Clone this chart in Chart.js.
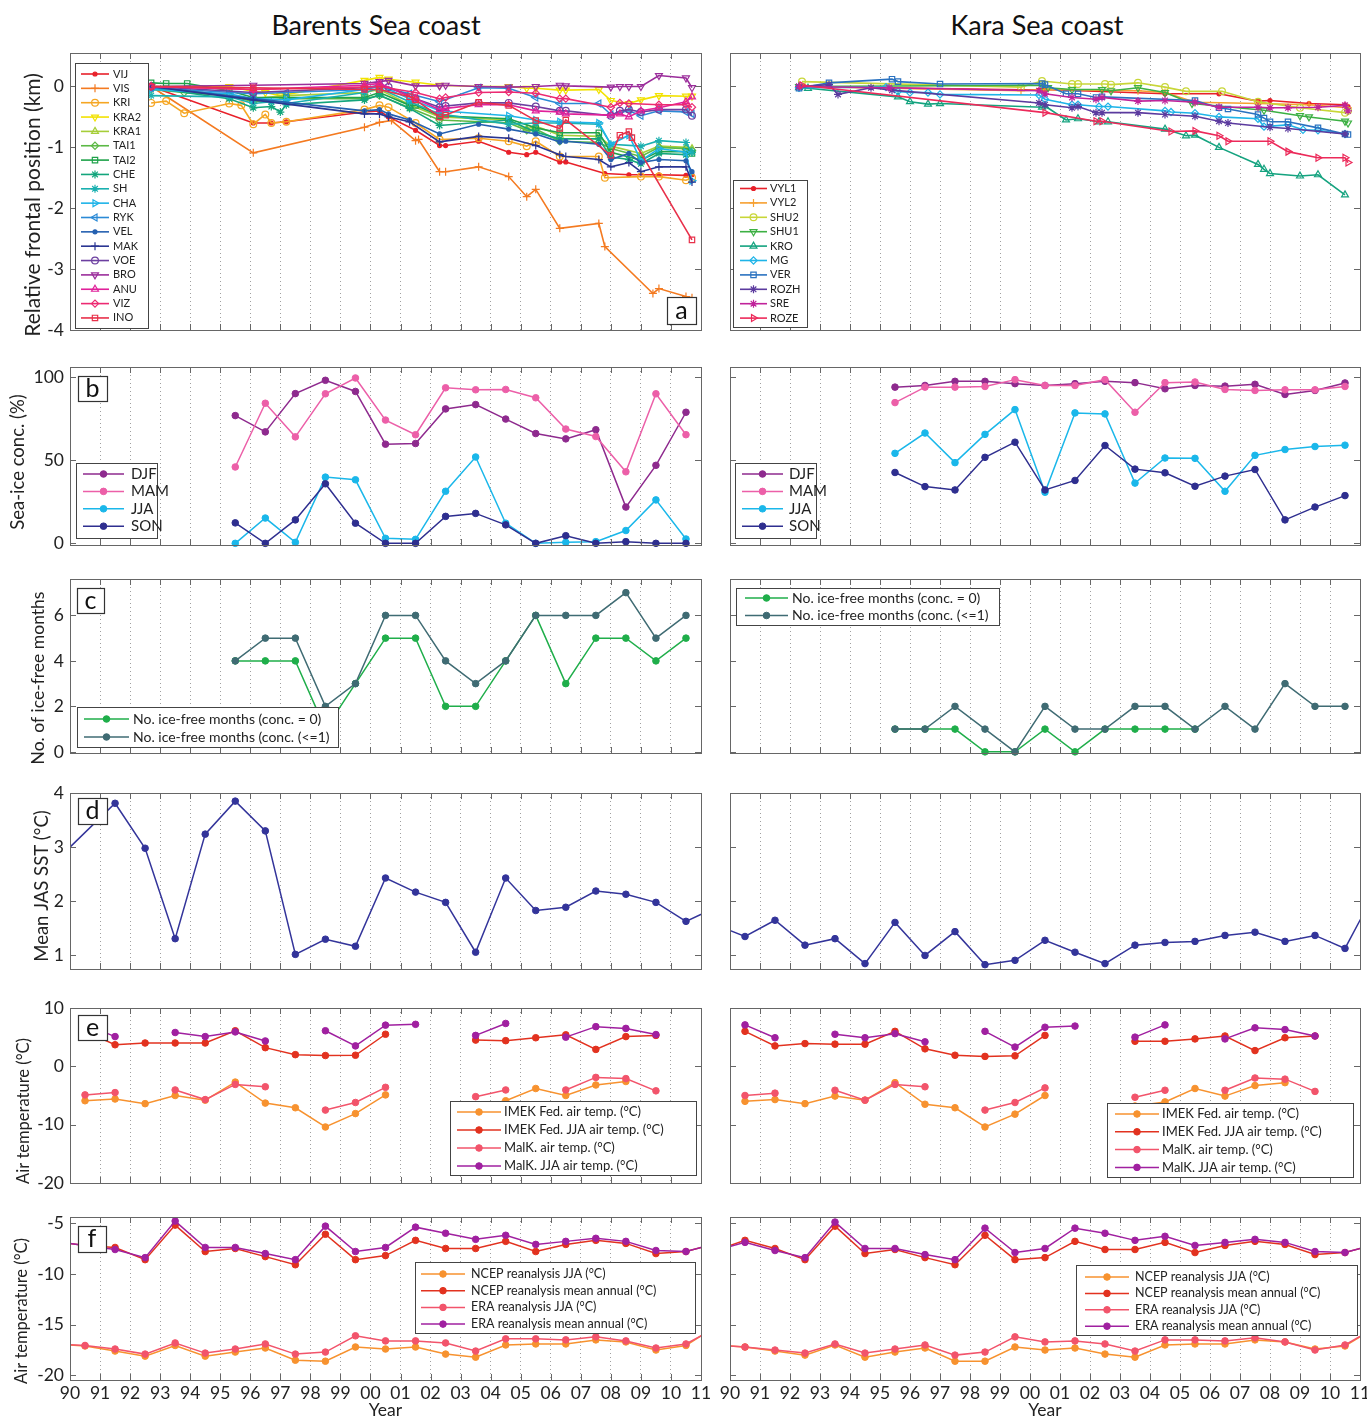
<!DOCTYPE html>
<html>
<head>
<meta charset="utf-8">
<script src="https://cdn.jsdelivr.net/npm/chart.js@4.4.1/dist/chart.umd.min.js"></script>
<style>
body { margin: 0; background: #fff; width: 1367px; height: 1421px; overflow: hidden; position: relative; font-family: Lato, sans-serif; }
.hdr { position: absolute; top: 9px; font-size: 27px; line-height: 32px; color: #111; transform: translateX(-50%); white-space: nowrap; }
.panel { position: absolute; }
</style>
</head>
<body>
<div class="hdr" style="left:376px">Barents Sea coast</div>
<div class="hdr" style="left:1037px">Kara Sea coast</div>
<script>
// ---- a: relative frontal position (km), [year, km]
const VIJ = [[1992.7,0],[1996.1,-0.6],[1996.7,-0.6],[1997.2,-0.58],[1999.8,-0.42],[2000.3,-0.4],[2000.6,-0.5],[2001.5,-0.72],[2002.3,-0.97],[2002.5,-0.97],[2003.6,-0.9],[2004.6,-1.08],[2005.2,-1.12],[2005.5,-1.08],[2006.3,-1.24],[2006.5,-1.24],[2007.8,-1.43],[2008.6,-1.45],[2009.6,-1.45],[2010.5,-1.46],[2010.7,-1.45]];
const VIS = [[1992.7,0],[1996.1,-1.09],[1999.8,-0.67],[2000.3,-0.59],[2000.7,-0.56],[2001.5,-0.89],[2001.6,-0.87],[2002.3,-1.4],[2002.5,-1.4],[2003.6,-1.32],[2004.6,-1.48],[2005.2,-1.81],[2005.5,-1.69],[2006.3,-2.33],[2007.6,-2.25],[2007.8,-2.63],[2009.4,-3.4],[2009.6,-3.32],[2010.5,-3.45],[2010.7,-3.47]];
const KRI = [[1992.7,-0.27],[1993.2,-0.24],[1993.8,-0.44],[1995.3,-0.28],[1995.7,-0.31],[1996.1,-0.62],[1996.5,-0.46],[1996.7,-0.6],[1997.2,-0.58],[1999.8,-0.38],[2000.3,-0.31],[2000.6,-0.34],[2001.5,-0.6],[2002.3,-0.87],[2003.6,-0.85],[2004.6,-0.9],[2005.2,-0.98],[2005.5,-0.9],[2006.3,-1.15],[2007.6,-1.15],[2007.8,-1.5],[2009.0,-1.48],[2009.6,-1.48],[2010.5,-1.54],[2010.7,-1.5]];
const KRA2 = [[1992.7,0],[1995.3,0],[1996.1,-0.08],[1996.5,-0.1],[1997.0,-0.15],[1999.8,0.1],[2000.3,0.15],[2000.6,0.12],[2001.5,0.07],[2002.3,0.02],[2003.6,0],[2004.6,0],[2005.2,-0.03],[2005.5,-0.03],[2006.3,-0.06],[2006.5,-0.06],[2007.6,-0.05],[2008.0,-0.23],[2008.6,-0.28],[2009.0,-0.22],[2009.6,-0.15],[2010.5,-0.16],[2010.7,-0.16]];
const KRA1 = [[1992.7,0],[1996.1,-0.2],[1997.2,-0.15],[1999.8,-0.1],[2000.3,-0.05],[2001.3,-0.3],[2002.3,-0.5],[2004.6,-0.55],[2005.2,-0.7],[2005.5,-0.65],[2006.3,-0.8],[2007.6,-0.82],[2008.0,-0.98],[2009.0,-1.1],[2009.6,-0.98],[2010.5,-1.0],[2010.7,-1.02]];
const TAI1 = [[1992.7,-0.05],[1993.8,-0.1],[1995.3,-0.15],[1996.1,-0.25],[1997.2,-0.2],[1999.8,-0.2],[2000.3,-0.15],[2001.3,-0.35],[2002.3,-0.55],[2004.6,-0.6],[2005.2,-0.72],[2005.5,-0.7],[2006.3,-0.9],[2007.6,-0.92],[2008.0,-1.02],[2009.0,-1.15],[2009.6,-1.0],[2010.5,-1.02],[2010.7,-1.05]];
const TAI2 = [[1992.7,0.06],[1993.2,0.05],[1993.9,0.05],[1995.3,-0.07],[1996.1,-0.18],[1997.2,-0.18],[1999.8,-0.18],[2000.3,-0.1],[2001.3,-0.31],[2001.5,-0.31],[2002.3,-0.48],[2004.6,-0.53],[2005.5,-0.68],[2006.3,-0.76],[2007.6,-0.76],[2008.0,-1.08],[2009.0,-1.21],[2009.6,-1.07],[2010.5,-1.07],[2010.7,-1.1]];
const CHE = [[1992.7,-0.02],[1995.3,-0.2],[1996.1,-0.35],[1996.7,-0.33],[1997.0,-0.42],[1997.2,-0.3],[1999.8,-0.22],[2000.3,-0.14],[2001.3,-0.36],[2002.3,-0.64],[2004.6,-0.55],[2005.5,-0.75],[2006.3,-0.86],[2007.6,-0.86],[2008.0,-1.16],[2008.6,-1.2],[2009.0,-1.27],[2009.6,-1.1],[2010.5,-1.12],[2010.7,-1.08]];
const SH = [[1992.7,-0.15],[1995.3,-0.17],[1996.1,-0.28],[1996.7,-0.25],[1997.2,-0.28],[1999.8,-0.1],[2000.3,-0.03],[2001.3,-0.25],[2002.3,-0.45],[2004.6,-0.62],[2005.5,-0.6],[2006.3,-0.6],[2007.6,-0.62],[2008.0,-0.95],[2009.0,-0.98],[2009.6,-0.89],[2010.5,-0.92],[2010.7,-1.08]];
const CHA = [[1992.7,-0.05],[1995.3,-0.12],[1996.1,-0.2],[1997.2,-0.22],[1999.8,-0.05],[2000.3,0.02],[2001.3,-0.2],[2002.3,-0.4],[2004.6,-0.48],[2005.5,-0.55],[2006.3,-0.58],[2007.6,-0.6],[2008.0,-0.95],[2008.6,-0.8],[2009.0,-1.22],[2009.6,-1.02],[2010.5,-1.08],[2010.7,-1.55]];
const RYK = [[1992.7,-0.02],[1996.1,-0.12],[1997.2,-0.1],[1999.8,-0.05],[2000.3,0],[2001.3,-0.12],[2002.3,-0.25],[2003.6,-0.02],[2004.6,-0.03],[2005.5,-0.18],[2006.3,-0.28],[2007.6,-0.28],[2008.0,-0.46],[2008.6,-0.4],[2009.0,-0.48],[2009.6,-0.4],[2010.5,-0.42],[2010.7,-0.45]];
const VEL = [[1992.7,0],[1996.1,-0.2],[1999.8,-0.4],[2000.3,-0.38],[2000.6,-0.45],[2001.3,-0.55],[2002.3,-0.78],[2003.6,-0.62],[2004.6,-0.7],[2005.5,-0.78],[2006.3,-0.91],[2006.5,-0.9],[2007.6,-0.95],[2008.0,-1.2],[2008.6,-1.1],[2009.0,-1.25],[2009.6,-1.2],[2010.5,-1.22],[2010.7,-1.4]];
const MAK = [[1992.7,0],[1996.1,-0.22],[1999.8,-0.45],[2000.3,-0.45],[2000.6,-0.5],[2001.3,-0.58],[2002.3,-0.91],[2003.6,-0.82],[2004.6,-0.85],[2005.5,-0.97],[2006.3,-1.12],[2006.5,-1.15],[2007.6,-1.2],[2008.0,-1.32],[2008.6,-1.25],[2009.0,-1.4],[2009.6,-1.32],[2010.5,-1.32],[2010.7,-1.57]];
const VOE = [[1992.7,0],[1996.1,-0.1],[1999.8,-0.02],[2000.3,0.02],[2000.6,-0.01],[2001.5,-0.2],[2002.3,-0.34],[2002.5,-0.32],[2003.6,-0.27],[2004.6,-0.27],[2005.5,-0.33],[2006.3,-0.4],[2006.5,-0.4],[2008.0,-0.48],[2008.3,-0.4],[2008.6,-0.38],[2009.0,-0.42],[2009.6,-0.38],[2010.5,-0.38],[2010.7,-0.48]];
const BRO = [[1992.7,0],[1996.1,0.02],[1999.8,0.05],[2000.3,0.08],[2000.6,0.1],[2001.5,0.01],[2002.3,0.01],[2002.5,0.02],[2003.6,0],[2004.6,-0.01],[2005.5,0],[2006.3,0.02],[2006.5,0.01],[2008.0,-0.01],[2008.3,0],[2008.6,0],[2009.0,0],[2009.6,0.18],[2010.5,0.14],[2010.7,-0.02]];
const ANU = [[1992.7,0],[1996.1,-0.05],[1999.8,0.02],[2000.3,0.05],[2001.5,-0.2],[2002.3,-0.38],[2002.5,-0.36],[2003.6,-0.3],[2004.6,-0.3],[2005.5,-0.4],[2006.3,-0.42],[2006.5,-0.45],[2008.0,-0.47],[2008.3,-0.45],[2008.6,-0.5],[2009.0,-0.4],[2009.6,-0.35],[2010.5,-0.25],[2010.7,-0.17]];
const VIZ = [[1992.7,0],[1996.1,-0.05],[1999.8,-0.01],[2000.3,0],[2001.5,-0.1],[2002.3,-0.2],[2002.5,-0.18],[2003.6,-0.1],[2004.6,-0.09],[2005.5,-0.11],[2006.3,-0.2],[2006.5,-0.2],[2008.0,-0.34],[2008.3,-0.27],[2008.6,-0.28],[2009.6,-0.3],[2010.5,-0.3],[2010.7,-0.34]];
const INO = [[1992.7,0],[1996.1,-0.02],[1999.8,-0.05],[2000.3,-0.05],[2001.3,-0.17],[2001.5,-0.22],[2002.3,-0.5],[2002.5,-0.47],[2003.6,-0.26],[2004.6,-0.31],[2005.5,-0.56],[2006.3,-0.69],[2006.5,-0.55],[2008.0,-1.13],[2008.3,-0.8],[2008.6,-0.74],[2008.7,-0.84],[2010.7,-2.52]];

const VYL1 = [[1992.3,0],[2000.3,-0.06],[2000.5,-0.05],[2004.5,-0.12],[2006.3,-0.12],[2007.6,-0.24],[2008.0,-0.23],[2009.3,-0.28],[2010.5,-0.3],[2010.6,-0.33]];
const VYL2 = [[1992.3,0],[1999.7,-0.07],[2000.5,-0.05],[2003.6,-0.07],[2004.5,-0.1],[2005.5,-0.26],[2007.6,-0.28],[2009.3,-0.3],[2010.6,-0.35]];
const SHU2 = [[1992.4,0.08],[1999.7,-0.01],[2000.4,0.09],[2001.4,0.04],[2001.6,0.04],[2002.5,0.04],[2002.7,0.03],[2003.6,0.06],[2004.5,-0.01],[2005.2,-0.08],[2006.4,-0.08],[2007.6,-0.25],[2009.0,-0.35],[2010.5,-0.43],[2010.6,-0.4]];
const SHU1 = [[1992.3,0],[2000.4,0.02],[2000.6,-0.02],[2001.4,-0.05],[2002.4,-0.05],[2002.7,-0.07],[2003.6,-0.02],[2004.5,-0.1],[2005.4,-0.28],[2007.8,-0.39],[2009.0,-0.48],[2009.3,-0.5],[2010.5,-0.57],[2010.6,-0.6]];
const KRO = [[1992.3,-0.02],[1992.6,-0.03],[1995.6,-0.17],[1996.0,-0.25],[1996.6,-0.29],[1997.0,-0.28],[2000.4,-0.34],[2000.5,-0.32],[2001.2,-0.55],[2001.6,-0.53],[2002.3,-0.58],[2002.6,-0.58],[2004.5,-0.7],[2005.2,-0.81],[2005.5,-0.8],[2006.3,-1.0],[2007.6,-1.28],[2007.8,-1.36],[2008.0,-1.43],[2009.0,-1.47],[2009.6,-1.45],[2010.5,-1.78]];
const MG = [[1992.3,-0.02],[1995.2,-0.01],[1995.6,-0.08],[1996.0,-0.1],[1996.6,-0.1],[1997.0,-0.13],[2000.3,-0.14],[2000.5,-0.21],[2001.4,-0.3],[2001.6,-0.3],[2002.3,-0.33],[2002.6,-0.33],[2004.5,-0.4],[2004.7,-0.42],[2005.5,-0.44],[2006.3,-0.5],[2007.6,-0.53],[2007.8,-0.66],[2008.6,-0.63],[2009.1,-0.71],[2009.6,-0.72],[2010.5,-0.78]];
const VER = [[1992.3,-0.03],[1993.3,0.06],[1995.4,0.12],[1995.6,0.08],[1997.0,0.04],[2000.4,0.05],[2000.5,0.03],[2001.2,-0.12],[2001.6,-0.12],[2002.2,-0.18],[2002.4,-0.17],[2005.5,-0.23],[2006.3,-0.35],[2006.6,-0.37],[2007.6,-0.46],[2007.8,-0.52],[2008.0,-0.58],[2008.6,-0.58],[2009.6,-0.68],[2010.5,-0.78],[2010.6,-0.79]];
const ROZH = [[1992.3,0],[1993.3,0.03],[1993.6,-0.13],[1994.7,-0.02],[1995.4,-0.06],[2000.3,-0.27],[2000.5,-0.3],[2001.4,-0.35],[2001.6,-0.33],[2002.2,-0.43],[2002.4,-0.43],[2003.6,-0.43],[2004.5,-0.46],[2005.5,-0.49],[2006.3,-0.57],[2006.6,-0.6],[2008.0,-0.67],[2008.6,-0.69],[2010.5,-0.78]];
const SRE = [[1992.3,0],[1995.3,-0.02],[2000.3,-0.07],[2000.5,-0.12],[2001.4,-0.18],[2002.2,-0.21],[2002.4,-0.18],[2003.6,-0.24],[2004.5,-0.23],[2005.5,-0.26],[2006.3,-0.34],[2007.6,-0.34],[2008.0,-0.35],[2008.6,-0.35],[2009.6,-0.34],[2010.5,-0.31],[2010.6,-0.4]];
const ROZE = [[1992.4,0.02],[2000.5,-0.43],[2002.2,-0.57],[2002.4,-0.57],[2004.7,-0.74],[2005.5,-0.73],[2006.3,-0.81],[2006.6,-0.9],[2008.0,-0.9],[2008.6,-1.07],[2009.6,-1.17],[2010.5,-1.17],[2010.6,-1.25]];

// ---- b: sea-ice concentration (%)
const iceYears = [1995.5,1996.5,1997.5,1998.5,1999.5,2000.5,2001.5,2002.5,2003.5,2004.5,2005.5,2006.5,2007.5,2008.5,2009.5,2010.5];
const barentsDJF = [76.8,67,90,98,91.3,59.6,60,80.8,83.4,74.7,66,62.8,68.3,21.8,46.9,78.8];
const barentsMAM = [45.9,84.2,64,89.9,99.4,74.1,65.3,93.5,92.3,92.5,87.5,68.7,64.2,43,89.9,65.3];
const barentsJJA = [0,15.2,0.6,39.8,38.2,3,2.4,31.3,51.9,12.1,0,0.6,1,7.7,26.1,2.6];
const barentsSON = [12.3,0,14.1,35.8,12.1,0,0,16.2,18,11.1,0,4.6,0,1,0,0];
const karaDJF = [93.9,94.9,97.4,97.4,96,94.9,96,97.4,96.6,92.9,94.9,94.5,95.6,89.5,91.9,96.4];
const karaMAM = [84.6,93.9,93.9,94.3,98.4,94.9,94.9,98.4,78.8,96.6,97,92.5,91.9,92.3,92.3,94.3];
const karaJJA = [54.1,66.3,48.5,65.5,80.4,30.7,78.4,77.8,36.2,51.3,51.1,31.3,52.9,56.4,58.2,59];
const karaSON = [42.6,34.1,32.1,51.7,60.8,32.1,37.8,58.8,44.6,42.4,34.3,40.4,44.4,14.1,21.8,28.7];

// ---- c: number of ice-free months
const barentsFree0 = [4,4,4,1,3,5,5,2,2,4,6,3,5,5,4,5];
const barentsFree1 = [4,5,5,2,3,6,6,4,3,4,6,6,6,7,5,6];
const karaFree0 = [1,1,1,0,0,1,0,1,1,1,1,null,null,null,null,null];
const karaFree1 = [1,1,2,1,0,2,1,1,2,2,1,2,1,3,2,2];

// ---- d: mean JAS SST
const sstYearsBarents = [1989.5,1991.5,1992.5,1993.5,1994.5,1995.5,1996.5,1997.5,1998.5,1999.5,2000.5,2001.5,2002.5,2003.5,2004.5,2005.5,2006.5,2007.5,2008.5,2009.5,2010.5,2011.5];
const barentsSST = [2.73,3.81,2.98,1.31,3.24,3.85,3.30,1.02,1.30,1.17,2.43,2.17,1.98,1.06,2.43,1.83,1.89,2.19,2.13,1.98,1.63,1.89];
const sstYearsKara = [1989.5,1990.5,1991.5,1992.5,1993.5,1994.5,1995.5,1996.5,1997.5,1998.5,1999.5,2000.5,2001.5,2002.5,2003.5,2004.5,2005.5,2006.5,2007.5,2008.5,2009.5,2010.5,2011.5];
const karaSST = [1.57,1.35,1.65,1.19,1.31,0.85,1.61,1.0,1.44,0.83,0.91,1.28,1.06,0.85,1.19,1.24,1.26,1.37,1.43,1.26,1.37,1.13,2.17];

// ---- e: station air temperature
const eYears = [1990.5,1991.5,1992.5,1993.5,1994.5,1995.5,1996.5,1997.5,1998.5,1999.5,2000.5,2001.5,2002.5,2003.5,2004.5,2005.5,2006.5,2007.5,2008.5,2009.5];
const barentsImekAnn = [-5.9,-5.6,-6.4,-5.0,-5.8,-2.7,-6.3,-7.1,-10.4,-8.1,-4.9,null,null,-6.9,-5.9,-3.8,-5.0,-3.2,-2.6,null];
const barentsImekJJA = [6.0,3.7,4.0,4.0,4.0,6.1,3.2,2.0,1.85,1.9,5.5,null,null,4.5,4.4,4.9,5.4,2.9,5.1,5.3];
const barentsMalkAnn = [-4.9,-4.5,null,-4.05,-5.7,-3.1,-3.5,null,-7.5,-6.2,-3.6,null,null,-5.2,-4.05,null,-4.05,-1.9,-2.1,-4.2];
const barentsMalkJJA = [7.2,5.1,null,5.8,5.1,5.9,4.35,null,6.1,3.5,7.06,7.2,null,5.3,7.35,null,5.0,6.8,6.5,5.45];
const karaImekAnn = [-6.0,-5.7,-6.4,-5.1,-5.8,-2.8,-6.5,-7.1,-10.4,-8.2,-5.0,null,null,-6.8,-6.1,-3.8,-5.1,-3.3,-2.8,null];
const karaImekJJA = [6.0,3.5,3.9,3.8,3.8,6.0,3.0,1.9,1.7,1.8,5.3,null,null,4.3,4.3,4.7,5.2,2.7,4.9,5.2];
const karaMalkAnn = [-5.0,-4.6,null,-4.1,-5.8,-3.1,-3.5,null,-7.5,-6.2,-3.7,null,null,-5.3,-4.1,null,-4.1,-2.0,-2.2,-4.3];
const karaMalkJJA = [7.1,4.9,null,5.5,4.9,5.6,4.2,null,6.0,3.3,6.7,6.9,null,5.0,7.1,null,4.7,6.6,6.3,5.2];

// ---- f: reanalysis air temperature
const fYears = [1989.5,1990.5,1991.5,1992.5,1993.5,1994.5,1995.5,1996.5,1997.5,1998.5,1999.5,2000.5,2001.5,2002.5,2003.5,2004.5,2005.5,2006.5,2007.5,2008.5,2009.5,2010.5,2011.5];
const barentsNcepJJA = [-16.9,-17.1,-17.6,-18.1,-17.05,-18.1,-17.7,-17.3,-18.5,-18.6,-17.2,-17.4,-17.2,-17.9,-18.2,-17.0,-16.9,-16.9,-16.5,-16.7,-17.5,-17.05,-15.15];
const barentsNcepAnn = [-6.8,-7.2,-7.4,-8.6,-5.2,-7.8,-7.5,-8.3,-9.1,-6.1,-8.6,-8.2,-6.7,-7.5,-7.5,-6.8,-7.8,-7.1,-6.7,-7.0,-8.0,-7.8,-7.0];
const barentsEraJJA = [-16.9,-17.05,-17.4,-17.9,-16.8,-17.8,-17.4,-16.9,-17.9,-17.7,-16.1,-16.6,-16.6,-16.8,-17.6,-16.4,-16.4,-16.5,-16.2,-16.6,-17.3,-16.9,-15.3];
const barentsEraAnn = [-6.8,-7.2,-7.6,-8.4,-4.8,-7.4,-7.4,-8.0,-8.6,-5.3,-7.8,-7.4,-5.4,-6.0,-6.6,-6.2,-7.1,-6.8,-6.5,-6.8,-7.7,-7.8,-7.0];
const karaNcepJJA = [-17.0,-17.2,-17.6,-18.0,-17.0,-18.2,-17.7,-17.3,-18.6,-18.6,-17.2,-17.5,-17.3,-17.9,-18.2,-17.0,-16.9,-16.9,-16.5,-16.7,-17.4,-17.1,-15.3];
const karaNcepAnn = [-7.7,-6.7,-7.5,-8.6,-5.3,-8.0,-7.6,-8.4,-9.1,-6.2,-8.6,-8.4,-6.8,-7.6,-7.6,-6.9,-7.9,-7.2,-6.8,-7.1,-8.1,-7.9,-7.1];
const karaEraJJA = [-17.0,-17.2,-17.5,-17.8,-16.9,-17.8,-17.4,-17.0,-18.0,-17.7,-16.2,-16.7,-16.6,-16.9,-17.6,-16.5,-16.5,-16.6,-16.3,-16.7,-17.5,-17.0,-15.3];
const karaEraAnn = [-7.7,-6.9,-7.7,-8.4,-4.9,-7.5,-7.5,-8.1,-8.6,-5.5,-7.9,-7.5,-5.5,-6.0,-6.7,-6.3,-7.2,-6.9,-6.6,-6.9,-7.8,-7.9,-7.1];

// ---- styles
const MK = {
  dot: { s: 'circle', r: 2, fill: true },
  plus: { s: 'cross', r: 4 },
  circ: { s: 'circle', r: 3.4 },
  tdown: { s: 'triangle', r: 4, rot: 180 },
  tup: { s: 'triangle', r: 4 },
  tright: { s: 'triangle', r: 4, rot: 90 },
  tleft: { s: 'triangle', r: 4, rot: -90 },
  diam: { s: 'rectRot', r: 3.6 },
  sq: { s: 'rect', r: 3.8 },
  star: { s: 'star', r: 4 },
};

function frontSet(label, pts, color, mk, i) {
  const m = MK[mk];
  return {
    label, data: pts.map(([x, y]) => ({ x, y })),
    borderColor: color, borderWidth: 1.6, tension: 0, clip: false,
    pointStyle: m.s, pointRadius: m.r, pointRotation: m.rot || 0,
    pointBorderColor: color, pointBorderWidth: 1.2,
    pointBackgroundColor: m.fill ? color : 'rgba(255,255,255,0)',
    order: -i,
  };
}

function lineSet(label, xs, ys, color, i, extra) {
  return Object.assign({
    label, data: xs.map((x, k) => ({ x, y: ys[k] })),
    borderColor: color, borderWidth: 1.5, tension: 0, spanGaps: false, clip: false,
    pointStyle: 'circle', pointRadius: 3.3, pointBorderWidth: 1,
    pointBorderColor: color, pointBackgroundColor: color,
    order: -i,
  }, extra || {});
}

const decor = {
  id: 'decor',
  afterDraw(chart, args, o) {
    const ctx = chart.ctx, a = chart.chartArea, xs = chart.scales.x, ys = chart.scales.y;
    ctx.save();
    ctx.strokeStyle = '#666';
    ctx.lineWidth = 1;
    ctx.beginPath();
    xs.ticks.forEach(t => {
      const p = Math.round(xs.getPixelForValue(t.value)) + 0.5;
      ctx.moveTo(p, a.top); ctx.lineTo(p, a.top + 6);
      ctx.moveTo(p, a.bottom); ctx.lineTo(p, a.bottom - 6);
    });
    ys.ticks.forEach(t => {
      const p = Math.round(ys.getPixelForValue(t.value)) + 0.5;
      ctx.moveTo(a.left, p); ctx.lineTo(a.left + 6, p);
      ctx.moveTo(a.right, p); ctx.lineTo(a.right - 6, p);
    });
    ctx.stroke();
    ctx.strokeRect(Math.round(a.left) + 0.5, Math.round(a.top) + 0.5, Math.round(a.right - a.left), Math.round(a.bottom - a.top));

    const L = o.legend;
    if (L) {
      const bx = L.box[0] - o.ox, by = L.box[1] - o.oy;
      ctx.fillStyle = '#fff';
      ctx.fillRect(bx, by, L.box[2], L.box[3]);
      ctx.strokeStyle = '#444';
      ctx.lineWidth = 1;
      ctx.strokeRect(bx + 0.5, by + 0.5, L.box[2], L.box[3]);
      ctx.font = L.font + 'px Lato, sans-serif';
      ctx.textBaseline = 'middle';
      ctx.textAlign = 'left';
      chart.data.datasets.forEach((d, i) => {
        const y = L.first + i * L.step - o.oy, x0 = L.line[0] - o.ox, x1 = L.line[1] - o.ox;
        ctx.strokeStyle = d.borderColor;
        ctx.lineWidth = d.borderWidth;
        ctx.beginPath(); ctx.moveTo(x0, y); ctx.lineTo(x1, y); ctx.stroke();
        ctx.fillStyle = d.pointBackgroundColor;
        ctx.strokeStyle = d.pointBorderColor;
        ctx.lineWidth = d.pointBorderWidth;
        if (Chart.helpers && Chart.helpers.drawPoint) {
          Chart.helpers.drawPoint(ctx, { pointStyle: d.pointStyle, radius: d.pointRadius, rotation: d.pointRotation || 0, borderWidth: d.pointBorderWidth }, (x0 + x1) / 2, y);
        }
        ctx.fillStyle = '#222';
        ctx.fillText(d.label, L.text - o.ox, y);
      });
    }
    const T = o.tag;
    if (T) {
      const tx = T.box[0] - o.ox, ty = T.box[1] - o.oy;
      ctx.fillStyle = '#fff';
      ctx.fillRect(tx, ty, T.box[2], T.box[3]);
      ctx.strokeStyle = '#333';
      ctx.lineWidth = 1.2;
      ctx.strokeRect(tx + 0.5, ty + 0.5, T.box[2], T.box[3]);
      ctx.fillStyle = '#111';
      ctx.font = '25px Lato, sans-serif';
      ctx.textAlign = 'center';
      ctx.textBaseline = 'middle';
      ctx.fillText(T.text, tx + T.box[2] / 2, ty + T.box[3] / 2);
    }
    const Yt = o.ytitle;
    if (Yt) {
      ctx.translate(Yt.x - o.ox, Yt.y - o.oy);
      ctx.rotate(-Math.PI / 2);
      ctx.fillStyle = '#222';
      ctx.font = Yt.size + 'px Lato, sans-serif';
      ctx.textAlign = 'center';
      ctx.textBaseline = 'middle';
      ctx.fillText(Yt.text, 0, 0);
    }
    ctx.restore();
  }
};
Chart.register(decor);
Chart.defaults.font.family = 'Lato, sans-serif';

const ROWS = { a: [53, 330], b: [367, 545], c: [579, 753], d: [793, 969], e: [1008, 1183], f: [1217, 1380] };
const COLS = { L: { x0: 0, w: 712, axisW: 70, padR: 11 }, R: { x0: 715, w: 652, axisW: 15, padR: 7 } };
const YAX = {
  a: { min: -4, max: 0.55, step: 1, title: 'Relative frontal position (km)', size: 21, tx: 33, ty: 205 },
  b: { min: -1, max: 106, step: 50, title: 'Sea-ice conc. (%)', size: 18.5, tx: 18, ty: 462 },
  c: { min: -0.05, max: 7.6, step: 2, title: 'No. of ice-free months', size: 17.5, tx: 38, ty: 678 },
  d: { min: 0.75, max: 4, step: 1, title: 'Mean JAS SST (°C)', size: 18.5, tx: 42, ty: 886 },
  e: { min: -20, max: 10, step: 10, title: 'Air temperature (°C)', size: 16.5, tx: 24, ty: 1111 },
  f: { min: -20.45, max: -4.4, step: 5, title: 'Air temperature (°C)', size: 16.5, tx: 22, ty: 1311 },
};

function panel(col, row, datasets, deco) {
  const C = COLS[col], R = ROWS[row], Y = YAX[row];
  const bottomRow = row === 'f';
  const top = R[0] - 12;
  const padB = bottomRow ? 0 : 16;
  const h = R[1] - R[0] + 12 + (bottomRow ? 41 : padB);
  const div = document.createElement('div');
  div.className = 'panel';
  div.style.cssText = `left:${C.x0}px;top:${top}px;width:${C.w}px;height:${h}px`;
  const cv = document.createElement('canvas');
  cv.width = C.w; cv.height = h;
  cv.style.width = C.w + 'px'; cv.style.height = h + 'px';
  div.appendChild(cv);
  document.body.appendChild(div);
  const yt = col === 'L' ? { ytitle: { text: Y.title, size: Y.size, x: Y.tx, y: Y.ty } } : {};
  new Chart(cv, {
    type: 'line',
    data: { datasets },
    options: {
      responsive: false, animation: false, devicePixelRatio: 1,
      layout: { padding: { top: 12, bottom: padB, left: 0, right: C.padR } },
      plugins: { legend: { display: false }, tooltip: { enabled: false }, decor: Object.assign({ ox: C.x0, oy: top }, yt, deco) },
      scales: {
        x: {
          type: 'linear', min: 1990, max: 2011,
          afterFit: s => { s.height = bottomRow ? 41 : 0; s.paddingLeft = 0; s.paddingRight = 0; },
          ticks: { display: bottomRow, stepSize: 1, autoSkip: false, maxRotation: 0, padding: 3, color: '#222', font: { size: 17.5 },
                   callback: v => String(v % 100).padStart(2, '0') },
          grid: { color: '#a0a0a0', drawTicks: false },
          border: { display: false, dash: [1, 3] },
          title: { display: bottomRow, text: 'Year', color: '#222', font: { size: 17.5 }, padding: { top: 0, bottom: 0 } },
        },
        y: {
          type: 'linear', min: Y.min, max: Y.max,
          afterFit: s => { s.width = C.axisW; s.paddingTop = 0; s.paddingBottom = 0; },
          ticks: { display: col === 'L', stepSize: Y.step, includeBounds: false, padding: 6, color: '#222', font: { size: 17.5 } },
          grid: { display: false, drawTicks: false },
          border: { display: false },
          title: { display: false },
        },
      },
    },
  });
}

// ---- row a
const barentsFront = [
  ['VIJ', VIJ, '#e8202a', 'dot'], ['VIS', VIS, '#f47a20', 'plus'], ['KRI', KRI, '#f5a623', 'circ'],
  ['KRA2', KRA2, '#f2e200', 'tdown'], ['KRA1', KRA1, '#a6ce39', 'tup'], ['TAI1', TAI1, '#5cb946', 'diam'],
  ['TAI2', TAI2, '#1fa24a', 'sq'], ['CHE', CHE, '#13a57c', 'star'], ['SH', SH, '#1ab0b0', 'star'],
  ['CHA', CHA, '#1eb4e8', 'tright'], ['RYK', RYK, '#2b8ad6', 'tleft'], ['VEL', VEL, '#2560b0', 'dot'],
  ['MAK', MAK, '#2a3592', 'plus'], ['VOE', VOE, '#6c3fa0', 'circ'], ['BRO', BRO, '#9b2d9b', 'tdown'],
  ['ANU', ANU, '#e0219a', 'tup'], ['VIZ', VIZ, '#ec2a72', 'diam'], ['INO', INO, '#e8304a', 'sq'],
];
const karaFront = [
  ['VYL1', VYL1, '#e8202a', 'dot'], ['VYL2', VYL2, '#f6a030', 'plus'], ['SHU2', SHU2, '#c8d638', 'circ'],
  ['SHU1', SHU1, '#3cb043', 'tdown'], ['KRO', KRO, '#14a37f', 'tup'], ['MG', MG, '#1eb4e8', 'diam'],
  ['VER', VER, '#2a72c0', 'sq'], ['ROZH', ROZH, '#5b3a9e', 'star'], ['SRE', SRE, '#c0239a', 'star'],
  ['ROZE', ROZE, '#ec2a5a', 'tright'],
];
panel('L', 'a', barentsFront.map((s, i) => frontSet(s[0], s[1], s[2], s[3], i)), {
  legend: { box: [75, 63, 73, 265], first: 74, step: 14.35, line: [81, 109], text: 113, font: 11 },
  tag: { text: 'a', box: [667, 297, 29, 27] },
});
panel('R', 'a', karaFront.map((s, i) => frontSet(s[0], s[1], s[2], s[3], i)), {
  legend: { box: [733, 180, 74, 147], first: 188.5, step: 14.4, line: [740, 767], text: 770, font: 11 },
});

// ---- row b
const C_DJF = '#8e2a8e', C_MAM = '#ec5fa8', C_JJA = '#1ab7ea', C_SON = '#2e2e8f';
panel('L', 'b', [
  lineSet('DJF', iceYears, barentsDJF, C_DJF, 0), lineSet('MAM', iceYears, barentsMAM, C_MAM, 1),
  lineSet('JJA', iceYears, barentsJJA, C_JJA, 2), lineSet('SON', iceYears, barentsSON, C_SON, 3),
], {
  legend: { box: [76, 463, 81, 75], first: 474, step: 17.4, line: [83, 124], text: 131, font: 15 },
  tag: { text: 'b', box: [78, 376, 29, 25] },
});
panel('R', 'b', [
  lineSet('DJF', iceYears, karaDJF, C_DJF, 0), lineSet('MAM', iceYears, karaMAM, C_MAM, 1),
  lineSet('JJA', iceYears, karaJJA, C_JJA, 2), lineSet('SON', iceYears, karaSON, C_SON, 3),
], { legend: { box: [735, 463, 81, 75], first: 474, step: 17.4, line: [742, 783], text: 789, font: 15 } });

// ---- row c
const C_F0 = '#1fae4a', C_F1 = '#3f6b73';
panel('L', 'c', [
  lineSet('No. ice-free months (conc. = 0)', iceYears, barentsFree0, C_F0, 0, { order: 1 }),
  lineSet('No. ice-free months (conc. (<=1)', iceYears, barentsFree1, C_F1, 1, { order: 0 }),
], {
  legend: { box: [77, 707, 261, 40], first: 719, step: 18, line: [84, 129], text: 133, font: 14 },
  tag: { text: 'c', box: [77, 588, 27, 25] },
});
panel('R', 'c', [
  lineSet('No. ice-free months (conc. = 0)', iceYears, karaFree0, C_F0, 0, { order: 1 }),
  lineSet('No. ice-free months (conc. (<=1)', iceYears, karaFree1, C_F1, 1, { order: 0 }),
], { legend: { box: [736, 588, 263, 37], first: 598, step: 17.5, line: [745, 788], text: 792, font: 14 } });

// ---- row d
const C_SST = '#33349a';
panel('L', 'd', [lineSet('SST', sstYearsBarents, barentsSST, C_SST, 0, { clip: 0 })],
  { tag: { text: 'd', box: [78, 798, 29, 26] } });
panel('R', 'd', [lineSet('SST', sstYearsKara, karaSST, C_SST, 0, { clip: 0 })], {});

// ---- row e
const C_ORG = '#f7922f', C_RED = '#e2321f', C_PNK = '#f2546b', C_PUR = '#a020a0';
panel('L', 'e', [
  lineSet('IMEK Fed. air temp. (°C)', eYears, barentsImekAnn, C_ORG, 0),
  lineSet('IMEK Fed. JJA air temp. (°C)', eYears, barentsImekJJA, C_RED, 1),
  lineSet('MalK. air temp. (°C)', eYears, barentsMalkAnn, C_PNK, 2),
  lineSet('MalK. JJA air temp. (°C)', eYears, barentsMalkJJA, C_PUR, 3),
], {
  legend: { box: [450, 1101, 246, 74], first: 1112, step: 18, line: [457, 501], text: 504, font: 13 },
  tag: { text: 'e', box: [78, 1015, 29, 25] },
});
panel('R', 'e', [
  lineSet('IMEK Fed. air temp. (°C)', eYears, karaImekAnn, C_ORG, 0),
  lineSet('IMEK Fed. JJA air temp. (°C)', eYears, karaImekJJA, C_RED, 1),
  lineSet('MalK. air temp. (°C)', eYears, karaMalkAnn, C_PNK, 2),
  lineSet('MalK. JJA air temp. (°C)', eYears, karaMalkJJA, C_PUR, 3),
], { legend: { box: [1107, 1103, 246, 74], first: 1114, step: 17.8, line: [1115, 1159], text: 1162, font: 13 } });

// ---- row f
panel('L', 'f', [
  lineSet('NCEP reanalysis JJA (°C)', fYears, barentsNcepJJA, C_ORG, 0, { clip: 0 }),
  lineSet('NCEP reanalysis mean annual (°C)', fYears, barentsNcepAnn, C_RED, 1, { clip: 0 }),
  lineSet('ERA reanalysis JJA (°C)', fYears, barentsEraJJA, C_PNK, 2, { clip: 0 }),
  lineSet('ERA reanalysis mean annual (°C)', fYears, barentsEraAnn, C_PUR, 3, { clip: 0 }),
], {
  legend: { box: [415, 1262, 280, 71], first: 1274, step: 16.7, line: [421, 465], text: 471, font: 12.5 },
  tag: { text: 'f', box: [78, 1226, 28, 26] },
});
panel('R', 'f', [
  lineSet('NCEP reanalysis JJA (°C)', fYears, karaNcepJJA, C_ORG, 0, { clip: 0 }),
  lineSet('NCEP reanalysis mean annual (°C)', fYears, karaNcepAnn, C_RED, 1, { clip: 0 }),
  lineSet('ERA reanalysis JJA (°C)', fYears, karaEraJJA, C_PNK, 2, { clip: 0 }),
  lineSet('ERA reanalysis mean annual (°C)', fYears, karaEraAnn, C_PUR, 3, { clip: 0 }),
], { legend: { box: [1076, 1265, 281, 70], first: 1277, step: 16.4, line: [1085, 1129], text: 1135, font: 12.5 } });
</script>
</body>
</html>
